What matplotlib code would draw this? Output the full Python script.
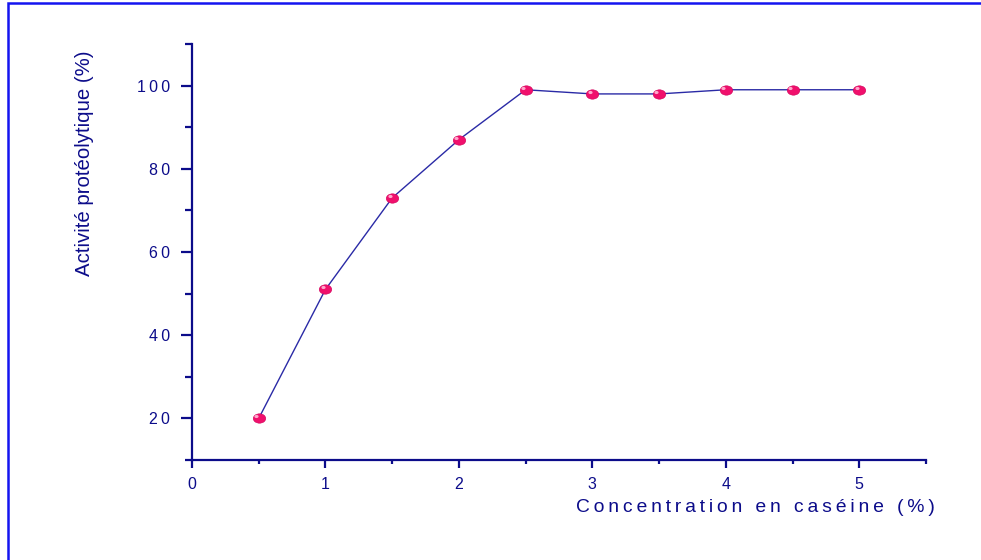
import matplotlib

matplotlib.use("Agg")
import matplotlib.pyplot as plt
from matplotlib.patches import Rectangle
from matplotlib.path import Path
from matplotlib.transforms import Affine2D
from matplotlib.ticker import FixedLocator, FuncFormatter

# casein concentration (%) vs proteolytic activity (%)
casein = [0.5, 1.0, 1.5, 2.0, 2.5, 3.0, 3.5, 4.0, 4.5, 5.0]
activity = [20, 51, 73, 87, 99, 98, 98, 99, 99, 99]

x_major = [0, 1, 2, 3, 4, 5]
y_major = [20, 40, 60, 80, 100]

_NAVY = "#0c0c8a"
_LINE = "#2a2aa6"
_DOT = "#f0106c"
_FRAME = "#1414f0"

plt.rcParams["font.family"] = ["Liberation Sans", "DejaVu Sans"]

fig = plt.figure(figsize=(9.81, 5.60), dpi=100)
ax = fig.add_axes([192 / 981, 100 / 560, (926 - 192) / 981, (516 - 100) / 560])

# slightly flattened dot, like a little bead
bead = Path.unit_circle().transformed(Affine2D().scale(1.0, 0.75))

ax.plot(casein, activity, color=_LINE, lw=1.0, zorder=2)
ax.plot(casein, activity, ls="none", marker=bead, ms=9, mfc=_DOT, mec="#d0005a",
        mew=0.4, zorder=3)
# highlight on each bead
ax.plot([c - 0.02 for c in casein], [a + 0.5 for a in activity], ls="none",
        marker=bead, ms=3, mfc="#ffa8cc", mec="none", zorder=4)

ax.set_xlim(0, 5.5)
ax.set_ylim(10, 110)
ax.xaxis.set_major_locator(FixedLocator(x_major))
ax.xaxis.set_minor_locator(FixedLocator([0.5, 1.5, 2.5, 3.5, 4.5, 5.5]))
ax.yaxis.set_major_locator(FixedLocator(y_major))
ax.yaxis.set_minor_locator(FixedLocator([10, 30, 50, 70, 90, 110]))

spaced = FuncFormatter(lambda v, _: "\u2009".join(str(int(v))))
ax.xaxis.set_major_formatter(spaced)
ax.yaxis.set_major_formatter(spaced)

for side in ("top", "right"):
    ax.spines[side].set_visible(False)
for side in ("left", "bottom"):
    ax.spines[side].set_color(_NAVY)
    ax.spines[side].set_linewidth(1.6)

ax.tick_params(axis="x", which="major", length=6, width=1.6, color=_NAVY,
               labelcolor=_NAVY, labelsize=11.5, pad=6)
ax.tick_params(axis="x", which="minor", length=3, width=1.6, color=_NAVY)
ax.tick_params(axis="y", which="major", length=8, width=1.6, color=_NAVY,
               labelcolor=_NAVY, labelsize=11.5, pad=8)
ax.tick_params(axis="y", which="minor", length=5, width=1.6, color=_NAVY)

xlabel = "\u2009".join("Concentration en caséine (%)")
fig.text(935 / 981, 1 - 508 / 560, xlabel, ha="right", va="center",
         color=_NAVY, fontsize=13.9)
fig.text(84 / 981, 1 - 163 / 560, "Activité protéolytique (%)", ha="center",
         va="center", rotation=90, color=_NAVY, fontsize=14.7)

# outer frame
fig.add_artist(Rectangle((8 / 981, -0.1), 1.1, 1 - 3 / 560 + 0.1,
                         transform=fig.transFigure, fill=False,
                         edgecolor=_FRAME, lw=1.8))

fig.savefig("out.png", dpi=100)
plt.close(fig)
